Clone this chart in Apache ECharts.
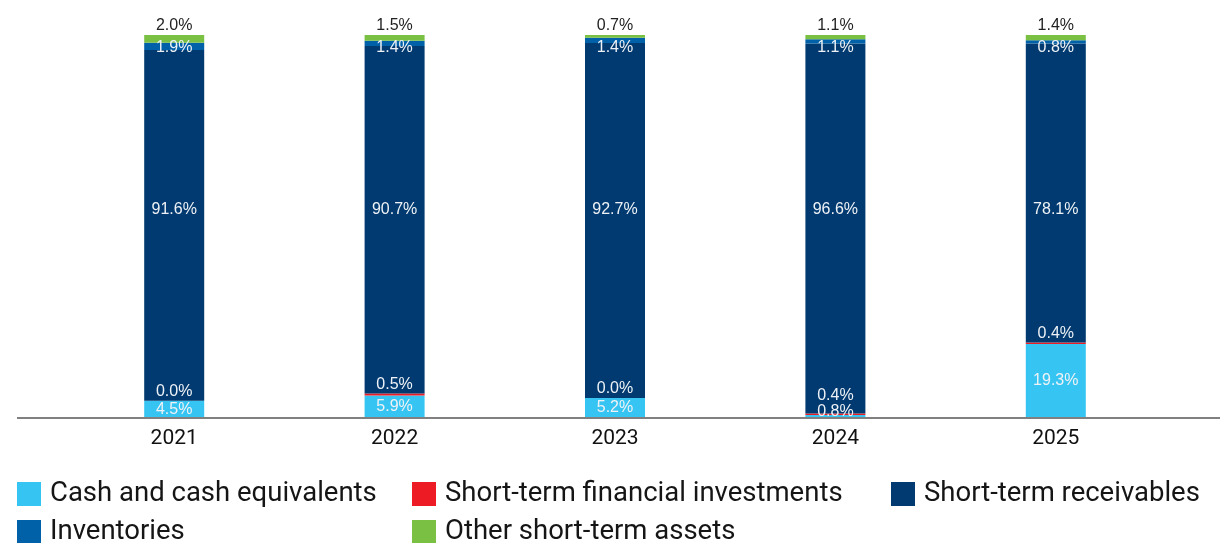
<!DOCTYPE html>
<html>
<head>
<meta charset="utf-8">
<script src="https://cdn.jsdelivr.net/npm/echarts@6/dist/echarts.min.js"></script>
<style>
  html, body { margin: 0; padding: 0; background: #ffffff; }
  #chart { width: 1220px; height: 543px; }
</style>
</head>
<body>
<div id="chart"></div>
<script>
// Structure of current assets by year, % of total
const years = ['2021', '2022', '2023', '2024', '2025'];
const cash = [4.5, 5.9, 5.2, 0.8, 19.3];
const stFinInvestments = [0.0, 0.5, 0.0, 0.4, 0.4];
const receivables = [91.6, 90.7, 92.7, 96.6, 78.1];
const inventories = [1.9, 1.4, 1.4, 1.1, 0.8];
const otherAssets = [2.0, 1.5, 0.7, 1.1, 1.4];

const seriesNames = [
  'Cash and cash equivalents',
  'Short-term financial investments',
  'Short-term receivables',
  'Inventories',
  'Other short-term assets'
];
const colors = ['#36C5F2', '#ED1C24', '#003A70', '#0060A8', '#79C043'];

// plot geometry (pixels)
const GRID_TOP = 35;
const GRID_H = 383;
const GRID_BOTTOM_Y = GRID_TOP + GRID_H;
const PX = GRID_H / 100;          // pixels per percentage point
const LABEL_HALF = 6;             // half the height of a value label

const labelFont = { fontFamily: 'Liberation Sans', fontSize: 16 };
const fmt = (p) => p.value.toFixed(1) + '%';

// Cash labels sit in the middle of their segment, but never below the axis line.
const cashShift = cash.map((v) => -Math.max(0, LABEL_HALF - v * PX / 2));

// Financial-investment labels sit just above their thin segment, clear of the cash label.
const finShift = stFinInvestments.map((v, i) => {
  const finTop = GRID_BOTTOM_Y - (cash[i] + v) * PX;
  const natural = finTop - 1 - LABEL_HALF;
  const cashCenter = Math.min(GRID_BOTTOM_Y - cash[i] * PX / 2, GRID_BOTTOM_Y - LABEL_HALF);
  const limit = cashCenter - 14;
  return Math.min(0, limit - natural);
});

// Receivables labels share one common level across the bars.
const RECV_LEVEL = 54.5;
const recvShift = receivables.map((v, i) => {
  const center = cash[i] + stFinInvestments[i] + v / 2;
  return (center - RECV_LEVEL) * PX;
});

// Inventories labels share one level just under the top of the bars.
const INV_LEVEL = 96.8;
const invShift = inventories.map((v, i) => {
  const center = cash[i] + stFinInvestments[i] + receivables[i] + v / 2;
  return (center - INV_LEVEL) * PX;
});

const shifts = [cashShift, finShift, recvShift, invShift, null];

const whiteLabel = Object.assign({ show: true, color: '#eef2f6', formatter: fmt }, labelFont);

const labels = [
  Object.assign({}, whiteLabel, { position: 'inside' }),
  Object.assign({}, whiteLabel, { position: 'top', distance: 1 }),
  Object.assign({}, whiteLabel, { position: 'inside' }),
  Object.assign({}, whiteLabel, { position: 'inside' }),
  Object.assign({}, whiteLabel, { position: 'top', distance: 1, color: '#222222' })
];
const values = [cash, stFinInvestments, receivables, inventories, otherAssets];

const series = values.map((vals, i) => {
  const s = {
    name: seriesNames[i],
    type: 'bar',
    stack: 'total',
    barWidth: 60,
    data: vals,
    itemStyle: { color: colors[i] },
    label: labels[i],
    emphasis: { disabled: true }
  };
  if (shifts[i]) {
    const sh = shifts[i];
    s.labelLayout = (params) => ({ dy: sh[params.dataIndex] });
  }
  return s;
});

// Legend: three columns, two rows; one single-item legend per slot.
const legendSlots = [
  { name: seriesNames[0], left: 17, top: 480 },
  { name: seriesNames[1], left: 412, top: 480 },
  { name: seriesNames[2], left: 891, top: 480 },
  { name: seriesNames[3], left: 17, top: 518 },
  { name: seriesNames[4], left: 412, top: 518 }
];
const legends = legendSlots.map((slot) => ({
  left: slot.left,
  top: slot.top,
  padding: 0,
  itemWidth: 24,
  itemHeight: 24,
  icon: 'rect',
  selectedMode: false,
  data: [slot.name],
  textStyle: {
    fontFamily: 'Roboto',
    fontSize: 27.5,
    color: '#151515',
    lineHeight: 26,
    padding: [0, 0, 0, 4]
  }
}));

const chart = echarts.init(document.getElementById('chart'), null, { renderer: 'canvas' });
chart.setOption({
  backgroundColor: '#ffffff',
  animation: false,
  grid: { left: 64, right: 54, top: GRID_TOP, height: GRID_H },
  xAxis: {
    type: 'category',
    data: years,
    axisLine: { show: false },
    axisTick: { show: false },
    axisLabel: { fontFamily: 'Roboto', fontSize: 21, color: '#111111', margin: 10 }
  },
  yAxis: { type: 'value', min: 0, max: 100, show: false },
  legend: legends,
  graphic: [{
    type: 'line',
    z: 100,
    shape: { x1: 17, y1: GRID_BOTTOM_Y, x2: 1220, y2: GRID_BOTTOM_Y },
    style: { stroke: '#808080', lineWidth: 2 }
  }],
  series: series
});
</script>
</body>
</html>
